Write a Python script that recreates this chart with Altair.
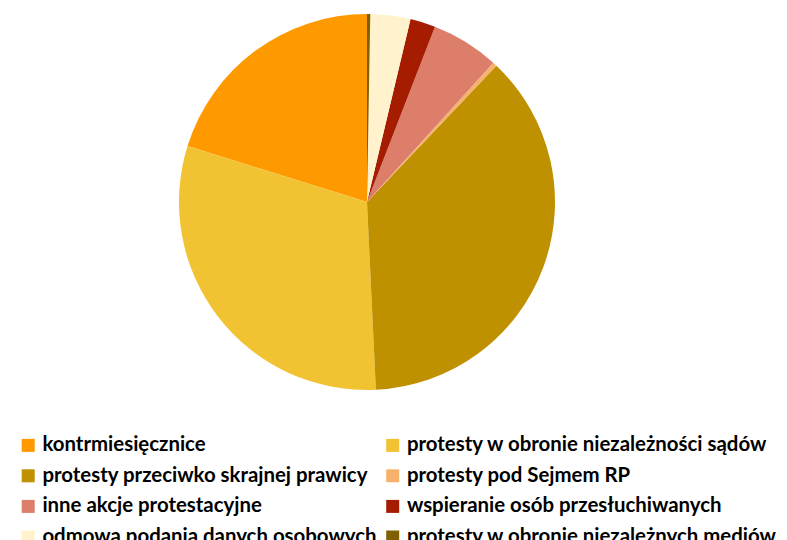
import altair as alt
import pandas as pd

categories = [
    "kontrmiesięcznice",
    "protesty w obronie niezależności sądów",
    "protesty przeciwko skrajnej prawicy",
    "protesty pod Sejmem RP",
    "inne akcje protestacyjne",
    "wspieranie osób przesłuchiwanych",
    "odmowa podania danych osobowych",
    "protesty w obronie niezależnych mediów",
]
values = [72.7, 110.0, 133.8, 1.3, 21.0, 7.8, 12.4, 1.0]
colors = ["#ff9900", "#f1c232", "#bf9000", "#f6b26b", "#dd7e6b", "#a61c00", "#fff2cc", "#7f6000"]

# legend is laid out column by column: left column first, then right column
legend_order = categories[0::2] + categories[1::2]
legend_colors = colors[0::2] + colors[1::2]

df = pd.DataFrame({
    "kategoria": categories,
    "wartosc": values,
    "kolejnosc": list(range(len(categories), 0, -1)),
})

chart = alt.Chart(df).mark_arc(radius=188, stroke=None).encode(
    x=alt.value(359),
    y=alt.value(194),
    theta=alt.Theta("wartosc:Q", stack=True),
    order=alt.Order("kolejnosc:Q", sort="ascending"),
    color=alt.Color(
        "kategoria:N",
        scale=alt.Scale(domain=legend_order, range=legend_colors),
        sort=legend_order,
        legend=alt.Legend(
            title=None,
            orient="none",
            legendX=10,
            legendY=427,
            columns=2,
            symbolType="square",
            symbolSize=169,
            symbolStrokeWidth=0,
            labelOffset=4,
            labelFont="Lato",
            labelFontWeight="bold",
            labelFontSize=20.4,
            labelColor="#000000",
            labelLimit=500,
            columnPadding=5.5,
            rowPadding=9.6,
            padding=0,
        ),
    ),
).properties(
    width=771,
    height=532,
    padding=0,
    autosize=alt.AutoSizeParams(type="none"),
).configure_view(stroke=None)

chart.save("out.html", embed_options={"renderer": "svg", "actions": False})
